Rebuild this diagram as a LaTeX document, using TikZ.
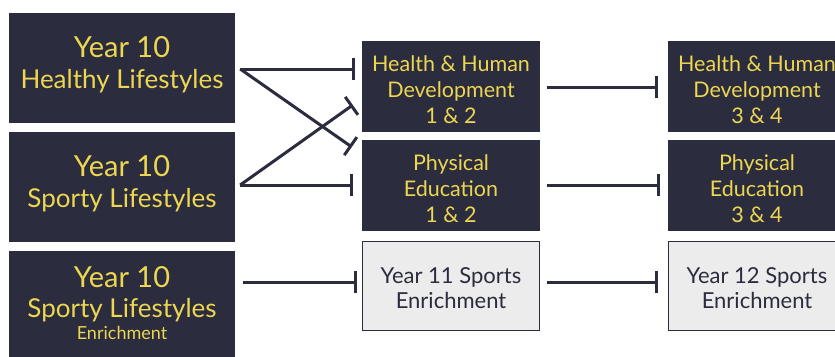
\documentclass[tikz,border=0pt]{standalone}
\usepackage{fontspec}
\setmainfont{Lato}
\usetikzlibrary{arrows.meta,calc}
\definecolor{navy}{RGB}{43,44,61}
\definecolor{gold}{RGB}{236,214,82}
\definecolor{lightbox}{RGB}{236,236,236}
\begin{document}
\begin{tikzpicture}[x=1pt,y=-1pt,
  leftbox/.style={fill=navy,text=gold,minimum width=226pt,minimum height=110pt,inner sep=0pt},
  midbox/.style={fill=navy,text=gold,minimum width=178pt,minimum height=91pt,inner sep=0pt},
  litebox/.style={fill=lightbox,draw=navy,line width=1.2pt,text=navy,minimum width=177pt,minimum height=89pt,inner sep=0pt},
  txt/.style={align=center,inner sep=0pt,anchor=base},
  conn/.style={draw=navy,line width=3pt,-{Bar[width=22pt,line width=3pt]}}
]
\useasboundingbox (0,0) rectangle (835,356);
\fill[white] (0,0) rectangle (835,356);
% left column
\node[leftbox] (a) at (122,68) {};
\node[leftbox] (b) at (122,187) {};
\node[leftbox] (c) at (122,306) {};
\node[txt,text=gold,font=\fontsize{29}{31}\selectfont] (a1) at (122,57) {Year 10};
\node[txt,text=gold,font=\fontsize{26}{31}\selectfont] (a2) at (122,88) {Healthy Lifestyles};
\node[txt,text=gold,font=\fontsize{29}{31}\selectfont] (b1) at (122,176) {Year 10};
\node[txt,text=gold,font=\fontsize{26}{31}\selectfont] (b2) at (122,207) {Sporty Lifestyles};
\node[txt,text=gold,font=\fontsize{29}{31}\selectfont] (c1) at (122,287) {Year 10};
\node[txt,text=gold,font=\fontsize{26}{31}\selectfont] (c2) at (122,317) {Sporty Lifestyles};
\node[txt,text=gold,font=\fontsize{18}{20}\selectfont] (c3) at (122,339) {Enrichment};
% middle column
\node[midbox] (hhd1) at (451,86.5) {};
\node[midbox] (pe1) at (451,185) {};
\node[litebox] (y11) at (451,286) {};
\node[midbox] (hhd2) at (757,86.5) {};
\node[midbox] (pe2) at (757,185) {};
\node[litebox] (y12) at (757,286) {};
\tikzset{mt/.style={txt,text=gold,font=\fontsize{21.5}{26}\selectfont},
         lt/.style={txt,text=navy,font=\fontsize{22}{25}\selectfont}}
\node[mt] (t1) at (451,71) {Health \& Human};
\node[mt] (t2) at (451,97) {Development};
\node[mt] (t3) at (451,123) {1 \& 2};
\node[mt] (t4) at (451,170) {Physical};
\node[mt] (t5) at (451,196) {Education};
\node[mt] (t6) at (451,222) {1 \& 2};
\node[lt] (t7) at (451,283) {Year 11 Sports};
\node[lt] (t8) at (451,308) {Enrichment};
\node[mt] (u1) at (757,71) {Health \& Human};
\node[mt] (u2) at (757,97) {Development};
\node[mt] (u3) at (757,123) {3 \& 4};
\node[mt] (u4) at (757,170) {Physical};
\node[mt] (u5) at (757,196) {Education};
\node[mt] (u6) at (757,222) {3 \& 4};
\node[lt] (u7) at (757,283) {Year 12 Sports};
\node[lt] (u8) at (757,308) {Enrichment};
% connector end points
\coordinate (aS) at ($(a.east)+(5,1)$);
\coordinate (bS) at ($(b.east)+(5,-2)$);
\coordinate (cS) at ($(c.east)+(8,-24)$);
\coordinate (hhdA) at ($(hhd1.west)+(-7,-17.5)$);
\coordinate (hhdB) at ($(hhd1.west)+(-9,18.5)$);
\coordinate (peA) at ($(pe1.west)+(-10,-38)$);
\coordinate (peB) at ($(pe1.west)+(-9,0)$);
\coordinate (y11W) at ($(y11.west)+(-5,-4)$);
\coordinate (hhd1E) at ($(hhd1.east)+(7,0.5)$);
\coordinate (pe1E) at ($(pe1.east)+(7,0)$);
\coordinate (y11E) at ($(y11.east)+(7,-4)$);
\coordinate (hhd2W) at ($(hhd2.west)+(-10,0.5)$);
\coordinate (pe2W) at ($(pe2.west)+(-8,0)$);
\coordinate (y12W) at ($(y12.west)+(-10,-4)$);
% connectors
\draw[conn] (aS) -- (hhdA);
\draw[conn] (aS) -- (peA);
\draw[conn] (bS) -- (hhdB);
\draw[conn] (bS) -- (peB);
\draw[conn] (cS) -- (y11W);
\draw[conn] (hhd1E) -- (hhd2W);
\draw[conn] (pe1E) -- (pe2W);
\draw[conn] (y11E) -- (y12W);
\end{tikzpicture}
\end{document}
